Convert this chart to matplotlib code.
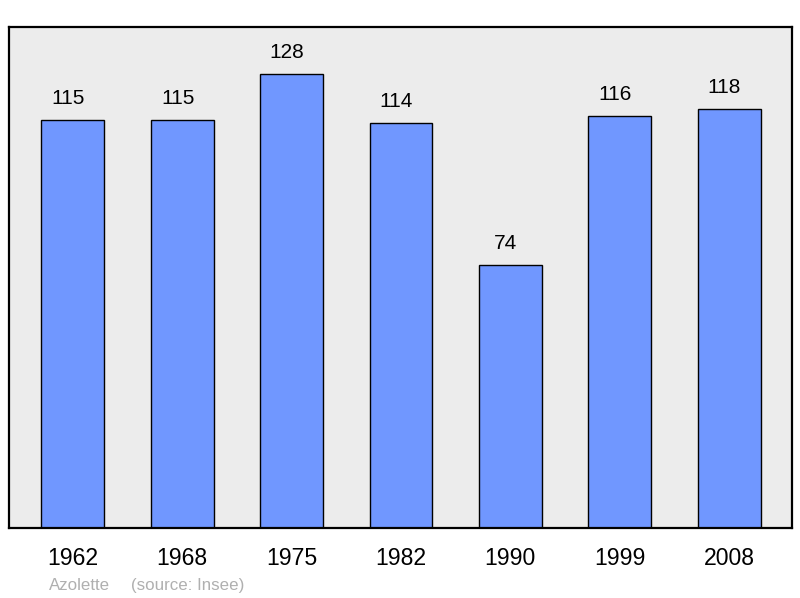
import matplotlib.pyplot as plt

years = ['1962', '1968', '1975', '1982', '1990', '1999', '2008']
population = [115, 115, 128, 114, 74, 116, 118]

plt.rcParams['font.family'] = ['Liberation Sans', 'DejaVu Sans']

fig = plt.figure(figsize=(8, 5.98), dpi=100)
ax = fig.add_axes([9 / 800, 70 / 598, 783 / 800, 501 / 598])
ax.set_facecolor('#ececec')

x = range(len(years))
ax.bar(x, population, width=0.576, color='#7097ff', edgecolor='black', linewidth=1.0)

# value labels sit a little left of the bar centres
for xi, v in zip(x, population):
    ax.annotate(str(v), (xi, v), xytext=(-3.3, 11.5), textcoords='offset points',
                ha='center', va='baseline', fontsize=15)

ax.set_xlim(-0.585, 6.576)
ax.set_ylim(0, 141.1)
ax.set_xticks(list(x))
ax.set_xticklabels(years, fontsize=16.6)
ax.tick_params(axis='x', length=0, pad=13.5)
ax.set_yticks([])
for s in ax.spines.values():
    s.set_linewidth(1.6)

fig.text(49 / 800, 1 - 590 / 598, 'Azolette', color='#b0b0b0', fontsize=12.2, va='baseline')
fig.text(131 / 800, 1 - 590 / 598, '(source: Insee)', color='#b0b0b0', fontsize=12.2, va='baseline')

plt.savefig('out.png', dpi=100)
